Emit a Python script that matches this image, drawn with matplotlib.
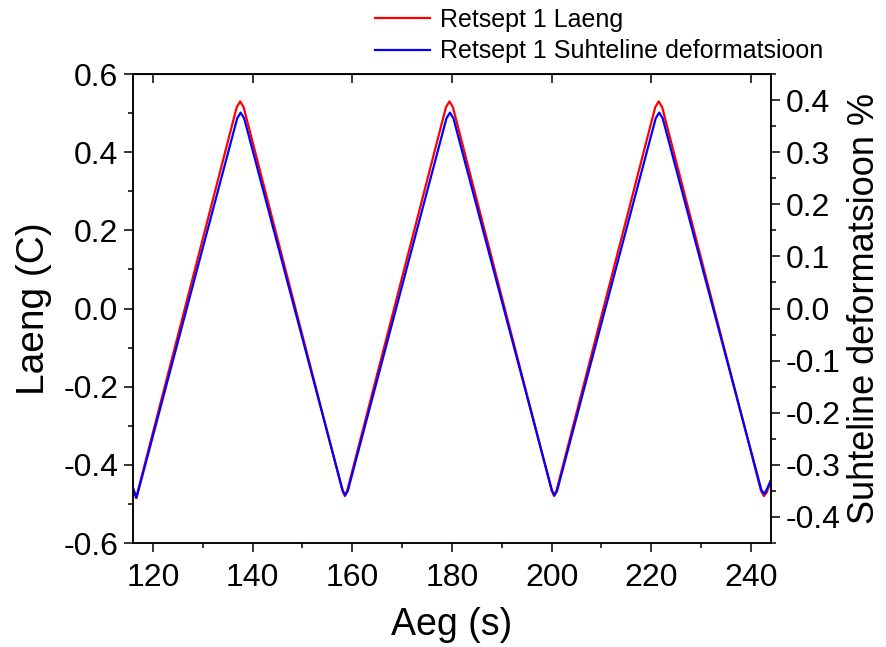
import matplotlib.pyplot as plt
from matplotlib.ticker import MultipleLocator

plt.rcParams['font.family'] = ['Liberation Sans', 'DejaVu Sans']

# Retsept 1 - vertices
t_laeng = [116.0, 116.6, 136.8, 137.5, 138.2, 158.0, 158.5, 159.0,
           178.8, 179.5, 180.2, 200.0, 200.5, 201.0, 220.8, 221.5, 222.2,
           242.0, 242.6, 243.2, 244.0]
laeng = [-0.46, -0.485, 0.515, 0.53, 0.515, -0.465, -0.48, -0.465,
         0.515, 0.53, 0.515, -0.465, -0.48, -0.465, 0.515, 0.53, 0.515,
         -0.465, -0.48, -0.47, -0.44]

t_def = [116.0, 116.7, 136.9, 137.6, 138.3, 158.1, 158.6, 159.1,
         178.9, 179.6, 180.3, 200.1, 200.6, 201.1, 220.9, 221.6, 222.3,
         242.1, 242.7, 243.3, 244.0]
deform = [-0.345, -0.363, 0.365, 0.376, 0.365, -0.35, -0.358, -0.35,
          0.365, 0.376, 0.365, -0.35, -0.358, -0.35, 0.365, 0.376, 0.365,
          -0.348, -0.356, -0.345, -0.33]

fig = plt.figure(figsize=(8.87, 6.47), dpi=100)
ax = fig.add_axes([0.150, 0.1607, 0.719, 0.7249])
ax2 = ax.twinx()

l1, = ax.plot(t_laeng, laeng, color='#ff0000', lw=1.6)
l2, = ax2.plot(t_def, deform, color='#0000ff', lw=1.6)

ax.set_xlim(116, 244)
ax.set_ylim(-0.6, 0.6)
ax2.set_ylim(-0.45, 0.45)

ax.xaxis.set_major_locator(MultipleLocator(20))
ax.xaxis.set_minor_locator(MultipleLocator(10))
ax.yaxis.set_major_locator(MultipleLocator(0.2))
ax.yaxis.set_minor_locator(MultipleLocator(0.1))
ax2.yaxis.set_major_locator(MultipleLocator(0.1))
ax2.yaxis.set_minor_locator(MultipleLocator(0.05))

fmt = lambda v, p: ('%.1f' % v).replace('-0.0', '0.0')
ax.yaxis.set_major_formatter(fmt)
ax2.yaxis.set_major_formatter(fmt)

for a in (ax, ax2):
    a.tick_params(which='major', direction='out', length=6.5, width=1.1,
                  labelsize=23, pad=4)
    a.tick_params(which='minor', direction='out', length=3.5, width=1.1)
    for s in a.spines.values():
        s.set_linewidth(1.1)
ax.tick_params(axis='x', which='major', pad=8)

top = ax.secondary_xaxis('top')
top.xaxis.set_major_locator(MultipleLocator(20))
top.tick_params(direction='in', length=6.5, width=1.1, labeltop=False)

ax.set_xlabel('Aeg (s)', fontsize=27, labelpad=10)
ax.set_ylabel('Laeng (C)', fontsize=28, labelpad=8)
ax2.set_ylabel('Suhteline deformatsioon %', fontsize=26, labelpad=5)

fig.legend([l1, l2], ['Retsept 1 Laeng', 'Retsept 1 Suhteline deformatsioon'],
           loc='upper right', bbox_to_anchor=(0.948, 1.015), frameon=False,
           fontsize=18, handlelength=2.2, handletextpad=0.4,
           labelspacing=0.3, borderpad=0.2)

fig.savefig('out.png', dpi=100)
